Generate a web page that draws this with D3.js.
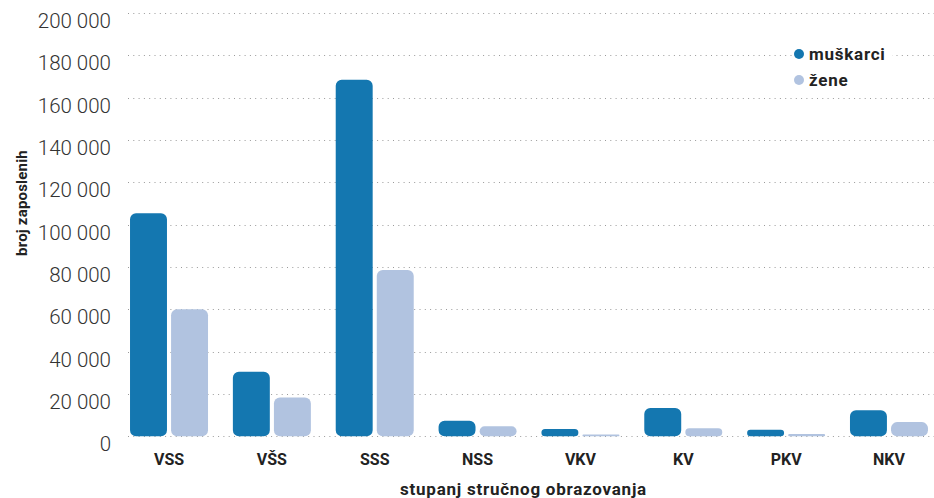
<!DOCTYPE html>
<html>
<head>
<meta charset="utf-8">
<script src="https://cdn.jsdelivr.net/npm/d3@7/dist/d3.min.js"></script>
<style>
  html, body { margin: 0; padding: 0; background: #fff; }
  svg { display: block; font-family: Roboto, "Noto Sans", sans-serif; }
</style>
</head>
<body>
<svg id="chart" width="934" height="498"></svg>
<script>
const categories = ["VSS", "VŠS", "SSS", "NSS", "VKV", "KV", "PKV", "NKV"];
const seriesNames = ["muškarci", "žene"];
const muskarci = [105400, 30500, 168500, 7400, 3400, 13400, 3100, 12300];
const zene = [60000, 18300, 78600, 4700, 800, 3800, 1100, 6700];
const yTicks = [0, 20000, 40000, 60000, 80000, 100000, 120000, 140000, 160000, 180000, 200000];
const colors = ["#1477b0", "#b1c3e0"];
const yTitle = "broj zaposlenih";
const xTitle = "stupanj stručnog obrazovanja";

const seriesValues = [muskarci, zene];
const svg = d3.select("#chart");

const y = d3.scaleLinear().domain([0, 200000]).range([436.3, 13]);
const x0 = d3.scaleBand().domain(categories).range([117.6, 940.4]).padding(0);
const groupW = 78;
const x1 = d3.scaleBand().domain(seriesNames).range([0, groupW]).paddingInner(0.1);
const fmt = v => d3.format(",")(v).replace(/,/g, " ");

// gridlines
const grid = svg.append("g");
grid.selectAll("line").data(yTicks).join("line")
  .attr("x1", 128).attr("x2", 934)
  .attr("y1", d => Math.round(y(d)) + 0.5).attr("y2", d => Math.round(y(d)) + 0.5)
  .attr("stroke", "#9a9a9a").attr("stroke-width", 1)
  .attr("stroke-dasharray", "1 4.3");

// y axis labels
const yAxis = d3.axisLeft(y).tickValues(yTicks).tickFormat(fmt).tickSize(0).tickPadding(0);
const yg = svg.append("g").attr("transform", "translate(111,0)").call(yAxis);
yg.select(".domain").remove();
yg.selectAll("text")
  .attr("dy", null).attr("y", 14.4)
  .attr("font-size", 20.5).attr("font-weight", 300)
  .attr("fill", "#333").attr("font-family", "Roboto, sans-serif");

// bars
function roundedBar(xp, w, top, bottom) {
  const h = bottom - top;
  const r = Math.min(6, h / 2, w / 2);
  return `M${xp},${top + r}` +
    `A${r},${r} 0 0 1 ${xp + r},${top}` +
    `H${xp + w - r}` +
    `A${r},${r} 0 0 1 ${xp + w},${top + r}` +
    `V${bottom - r}` +
    `A${r},${r} 0 0 1 ${xp + w - r},${bottom}` +
    `H${xp + r}` +
    `A${r},${r} 0 0 1 ${xp},${bottom - r}Z`;
}
const off = (x0.bandwidth() - groupW) / 2;
const groups = svg.append("g").selectAll("g").data(categories).join("g")
  .attr("transform", d => `translate(${x0(d) + off},0)`);
groups.selectAll("path").data((c, i) => seriesNames.map((s, k) => ({s, k, v: seriesValues[k][i]})))
  .join("path")
  .attr("d", d => roundedBar(x1(d.s), x1.bandwidth(), y(d.v), y(0)))
  .attr("fill", d => colors[d.k]);

// x axis labels
const xAxis = d3.axisBottom(x0).tickSize(0).tickPadding(0);
const xg = svg.append("g").call(xAxis);
xg.select(".domain").remove();
xg.selectAll("text")
  .attr("dy", null).attr("y", 465)
  .attr("font-size", 16).attr("font-weight", 700)
  .attr("fill", "#222").attr("font-family", "Roboto, sans-serif");

// axis titles
svg.append("text")
  .attr("transform", "translate(27,203) rotate(-90)")
  .attr("text-anchor", "middle")
  .attr("font-size", 15).attr("font-weight", 700).attr("fill", "#222")
  .attr("letter-spacing", 0.2)
  .text(yTitle);
svg.append("text")
  .attr("x", 523.5).attr("y", 495)
  .attr("text-anchor", "middle")
  .attr("font-size", 17).attr("font-weight", 700).attr("fill", "#222")
  .attr("letter-spacing", 0.75)
  .text(xTitle);

// legend
const lg = svg.append("g");
lg.append("rect").attr("x", 792).attr("y", 42).attr("width", 100).attr("height", 50).attr("fill", "#fff");
seriesNames.forEach((s, k) => {
  const cy = 54 + k * 26;
  lg.append("circle").attr("cx", 799).attr("cy", cy).attr("r", 5).attr("fill", colors[k]);
  lg.append("text").attr("x", 809).attr("y", cy + 6)
    .attr("font-size", 17).attr("font-weight", 700).attr("fill", "#222")
    .attr("letter-spacing", 0.75)
    .text(s);
});
</script>
</body>
</html>
